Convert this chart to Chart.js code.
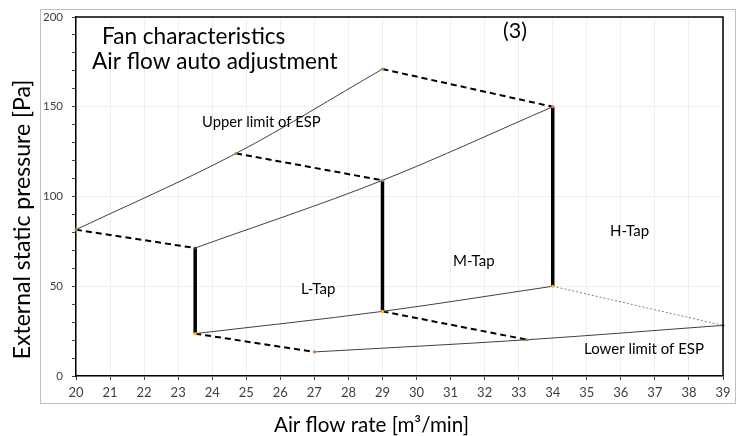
<!DOCTYPE html>
<html>
<head>
<meta charset="utf-8">
<script src="https://cdn.jsdelivr.net/npm/chart.js@4"></script>
<style>
  html, body { margin: 0; padding: 0; background: #fff; }
</style>
</head>
<body>
<canvas id="chart" width="736" height="436"></canvas>
<script>
// Fan characteristics (3): air flow auto adjustment.
// x = air flow rate [m3/min], y = external static pressure [Pa]

// ---- data ----
var upperLimitX = [20, 24.7, 29];
var upperLimitY = [81.5, 124, 171];

var tapX = [23.5, 29, 34];          // L / M / H tap columns
var tapTopY = [71.3, 109, 150];
var tapBottomY = [23.6, 36, 50];

var lowerLimitX = [27, 33.25, 39];
var lowerLimitY = [13.4, 20.2, 28.2];

var xTicks = { min: 20, max: 39, step: 1 };
var yTicks = { min: 0, max: 200, step: 10, labelEvery: 50 };

// ---- styles ----
var FONT = "Lato, 'Open Sans', sans-serif";
var CURVE = "#404040";
var INK = "#000000";
var GRID = "#efefef";
var TICK_TEXT = "#404040";
var GREEN = "#70ad47", ORANGE = "#ed7d31", GOLD = "#ffc000", BLUE = "#5b9bd5";

function pts(xs, ys) {
  return xs.map(function (x, i) { return { x: x, y: ys[i] }; });
}

function curve(label, xs, ys, markerColors) {
  return {
    label: label,
    data: pts(xs, ys),
    borderColor: CURVE,
    borderWidth: 1,
    cubicInterpolationMode: "monotone",
    pointRadius: 1.6,
    pointBorderWidth: 0,
    pointBackgroundColor: markerColors,
    clip: 6,
    order: 1,
  };
}

function connector(from, to, dash, width, color) {
  return {
    data: [from, to],
    borderColor: color,
    borderWidth: width,
    borderDash: dash,
    pointRadius: 0,
    clip: 6,
    order: 2,
  };
}

var upper = pts(upperLimitX, upperLimitY);
var top_ = pts(tapX, tapTopY);
var bottom = pts(tapX, tapBottomY);
var lower = pts(lowerLimitX, lowerLimitY);

var datasets = [
  curve("Upper limit of ESP", upperLimitX, upperLimitY, [GREEN, GREEN, GREEN]),
  curve("Tap top", tapX, tapTopY, [CURVE, BLUE, ORANGE]),
  curve("Tap bottom", tapX, tapBottomY, [GOLD, GOLD, GOLD]),
  curve("Lower limit of ESP", lowerLimitX, lowerLimitY, [ORANGE, GREEN, BLUE]),
  // dashed links between the limits and the taps
  connector(upper[0], top_[0], [6, 4], 2, INK),
  connector(upper[1], top_[1], [6, 4], 2, INK),
  connector(upper[2], top_[2], [6, 4], 2, INK),
  connector(bottom[0], lower[0], [6, 4], 2, INK),
  connector(bottom[1], lower[1], [6, 4], 2, INK),
  connector(bottom[2], lower[2], [2, 2], 1, "#7f7f7f"),
];
// thick vertical tap lines
tapX.forEach(function (x, i) {
  datasets.push(connector(bottom[i], top_[i], [], 3.5, INK));
});

// Decorations: outer frame, plot frame, titles and region labels.
var decorations = {
  id: "decorations",
  beforeDraw: function (chart) {
    var ctx = chart.ctx;
    ctx.save();
    ctx.strokeStyle = "#bfbfbf";
    ctx.lineWidth = 1;
    ctx.strokeRect(40.5, 9.5, 695, 394);
    ctx.restore();
  },
  afterDraw: function (chart) {
    var ctx = chart.ctx;
    var a = chart.chartArea;
    ctx.save();
    ctx.strokeStyle = INK;
    ctx.lineWidth = 1.5;
    ctx.beginPath();
    ctx.moveTo(a.left, a.top);
    ctx.lineTo(a.right, a.top);
    ctx.lineTo(a.right, a.bottom);
    ctx.stroke();

    function text(str, x, y, size, align) {
      ctx.font = size + "px " + FONT;
      ctx.textAlign = align || "left";
      ctx.textBaseline = "alphabetic";
      ctx.fillStyle = "#000";
      ctx.fillText(str, x, y);
    }
    text("Fan characteristics", 102, 44, 22.6);
    text("Air flow auto adjustment", 92, 68.5, 22.6);
    text("(3)", 515, 38, 21.5, "center");
    text("Upper limit of ESP", 202, 127, 14.8);
    text("L-Tap", 301, 293.5, 15);
    text("M-Tap", 453, 266, 15);
    text("H-Tap", 610, 236, 15);
    text("Lower limit of ESP", 584, 354, 15);

    // axis titles
    text("Air flow rate [m\u00b3/min]", 371.5, 432, 20.6, "center");
    ctx.translate(30, 219.5);
    ctx.rotate(-Math.PI / 2);
    text("External static pressure [Pa]", 0, 0, 23, "center");
    ctx.restore();
  },
};

new Chart(document.getElementById("chart"), {
  type: "line",
  data: { datasets: datasets },
  plugins: [decorations],
  options: {
    responsive: false,
    animation: false,
    layout: { padding: { top: 17, right: 13, left: 0, bottom: 0 } },
    plugins: {
      legend: { display: false },
      tooltip: { enabled: false },
    },
    scales: {
      x: {
        type: "linear",
        min: xTicks.min,
        max: xTicks.max,
        afterFit: function (s) { s.height = 60; },
        ticks: {
          stepSize: xTicks.step,
          autoSkip: false,
          maxRotation: 0,
          padding: 5,
          color: TICK_TEXT,
          font: { family: FONT, size: 13 },
        },
        grid: { color: GRID, tickColor: "#404040", tickLength: 4 },
        border: { color: INK, width: 1.5 },
      },
      y: {
        type: "linear",
        min: yTicks.min,
        max: yTicks.max,
        afterFit: function (s) { s.width = 76; },
        ticks: {
          stepSize: yTicks.step,
          autoSkip: false,
          padding: 9,
          color: TICK_TEXT,
          font: { family: FONT, size: 11.5 },
          callback: function (v) { return v % yTicks.labelEvery === 0 ? v : ""; },
        },
        grid: {
          color: function (c) {
            return c.tick && c.tick.value % yTicks.labelEvery === 0 ? GRID : "rgba(0,0,0,0)";
          },
          tickColor: "#404040",
          tickLength: 4,
        },
        border: { color: INK, width: 1.5 },
      },
    },
  },
});
</script>
</body>
</html>
